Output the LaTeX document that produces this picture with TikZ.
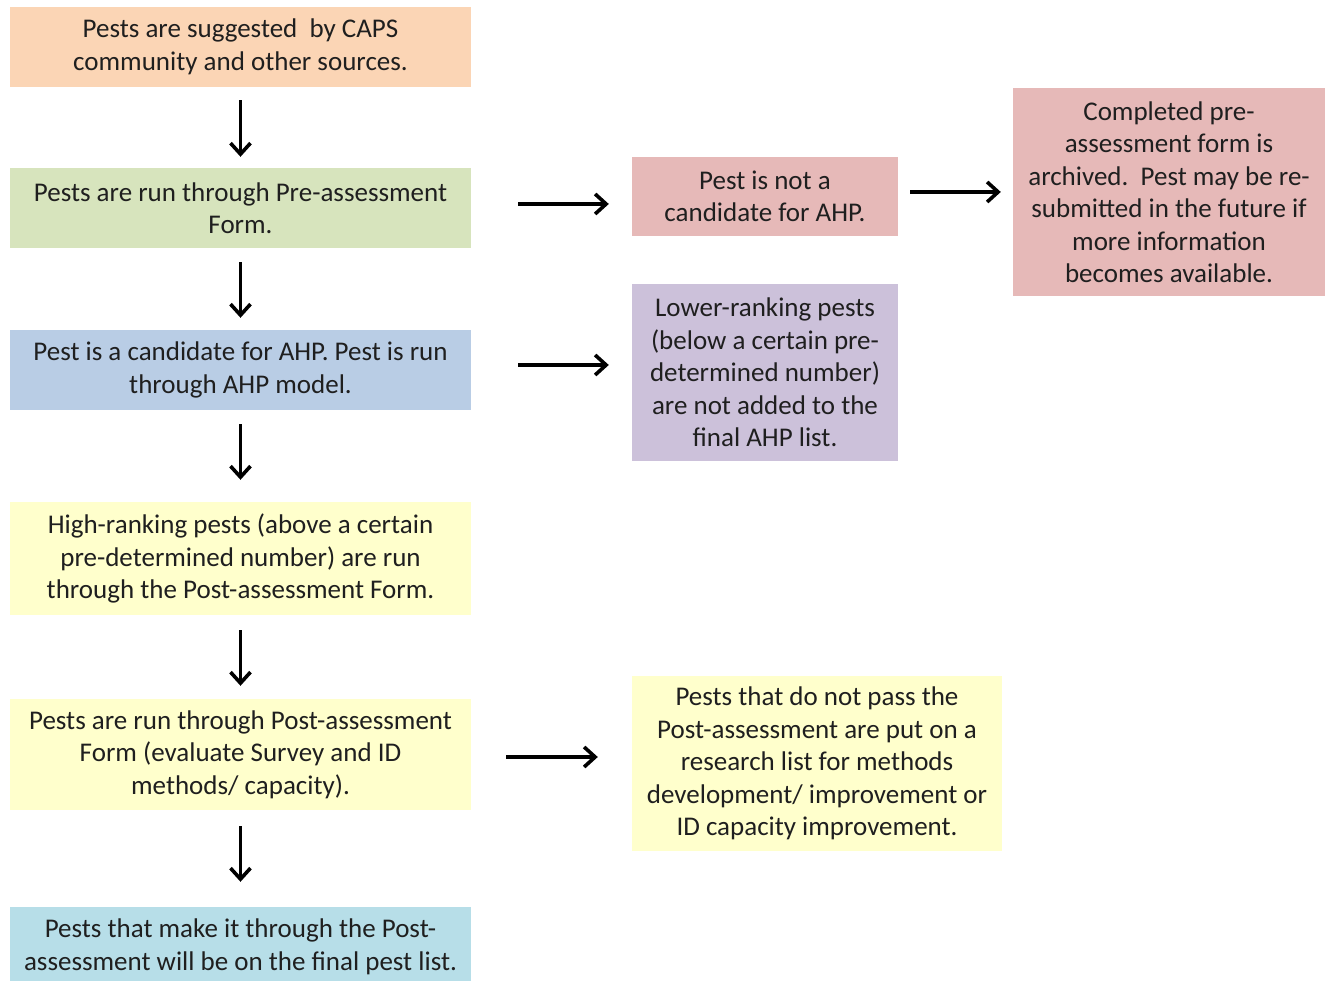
\documentclass[tikz,border=0pt]{standalone}
\usepackage{fontspec}
\setmainfont{Carlito}
\usetikzlibrary{arrows.meta,calc}
\definecolor{cOrange}{HTML}{FBD5B5}
\definecolor{cGreen}{HTML}{D7E4BD}
\definecolor{cBlue}{HTML}{B9CDE5}
\definecolor{cYellow}{HTML}{FFFFCC}
\definecolor{cCyan}{HTML}{B7DEE8}
\definecolor{cPink}{HTML}{E6B9B8}
\definecolor{cPurple}{HTML}{CCC1DA}
\definecolor{cText}{HTML}{1F1F1F}
\tikzset{
  box/.style={inner sep=0pt, align=center, text=cText,
    font=\fontsize{27pt}{32.5pt}\selectfont},
  arr/.style={line width=3.6pt, -{Straight Barb[length=11pt,width=20pt]}},
}
\begin{document}
\begin{tikzpicture}[x=1pt,y=1pt]
\useasboundingbox (0,0) rectangle (1327,981);
% left column (y = 981 - pixel y)
\node[box, fill=cOrange, minimum width=461pt, minimum height=80pt] (b1) at (240.5,934)
  {Pests are suggested\ \ by CAPS\\community and other sources.};
\node[box, fill=cGreen, minimum width=461pt, minimum height=80pt] (b2) at (240.5,773)
  {Pests are run through Pre-assessment\\Form.};
\node[box, fill=cBlue, minimum width=461pt, minimum height=80pt] (b3) at (240.5,611)
  {Pest is a candidate for AHP. Pest is run\\through AHP model.};
\node[box, fill=cYellow, minimum width=461pt, minimum height=113pt] (b4) at (240.5,422.5)
  {High-ranking pests (above a certain\\pre-determined number) are run\\through the\ Post-assessment Form.};
\node[box, fill=cYellow, minimum width=461pt, minimum height=111pt] (b5) at (240.5,226.5)
  {Pests are run through Post-assessment\\Form (evaluate Survey and ID\\methods/ capacity).};
\node[box, fill=cCyan, minimum width=461pt, minimum height=80pt] (b6) at (240.5,34)
  {Pests that make it through the\ Post-\\assessment will be on the final pest list.};
% right side
\node[box, fill=cPink, minimum width=266pt, minimum height=79pt] (b7) at (765,784.5)
  {Pest is not a\\candidate for AHP.};
\node[box, fill=cPink, minimum width=312pt, minimum height=208pt] (b8) at (1169,789)
  {Completed pre-\\assessment form is\\archived.\ \ Pest may be re-\\submitted in the future if\\more information\\becomes available.};
\node[box, fill=cPurple, minimum width=266pt, minimum height=177pt] (b9) at (765,608.5)
  {Lower-ranking pests\\(below a certain pre-\\determined number)\\are not added to the\\final AHP list.};
\node[box, fill=cYellow, minimum width=370pt, minimum height=175pt] (b10) at (817,217.5)
  {Pests that do not pass the\\Post-assessment are put on a\\research list for methods\\development/ improvement or\\ID capacity improvement.};
% vertical arrows
\draw[arr, shorten <=13pt, shorten >=11pt] (b1.south) -- (b2.north);
\draw[arr, shorten <=14pt, shorten >=12pt] (b2.south) -- (b3.north);
\draw[arr, shorten <=14pt, shorten >=22pt] (b3.south) -- (b4.north);
\draw[arr, shorten <=15pt, shorten >=13pt] (b4.south) -- (b5.north);
\draw[arr, shorten <=16pt, shorten >=25pt] (b5.south) -- (b6.north);
% horizontal arrows
\draw[arr, shorten <=47pt, shorten >=23pt] ([yshift=4pt]b2.east) -- ([yshift=4pt]b2.east -| b7.west);
\draw[arr, shorten <=12pt, shorten >=12pt] ([yshift=4.5pt]b7.east) -- ([yshift=4.5pt]b7.east -| b8.west);
\draw[arr, shorten <=47pt, shorten >=23pt] ([yshift=5pt]b3.east) -- ([yshift=5pt]b3.east -| b9.west);
\draw[arr, shorten <=35pt, shorten >=34pt] ([yshift=-2.5pt]b5.east) -- ([yshift=-2.5pt]b5.east -| b10.west);
\end{tikzpicture}
\end{document}
